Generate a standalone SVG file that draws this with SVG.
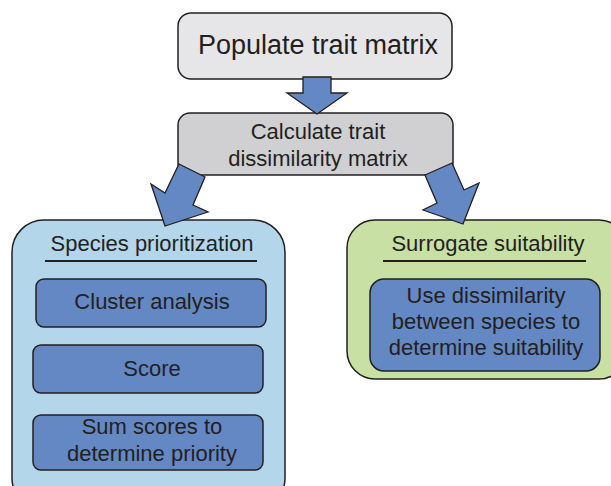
<svg xmlns="http://www.w3.org/2000/svg" width="611" height="486" viewBox="0 0 611 486">
<style>
text{font-family:"Liberation Sans",Arial,sans-serif;fill:#231f20;text-anchor:middle}
.box{stroke:#231f20;stroke-width:1.5}
.arrow{fill:#6488c4;stroke:#231f20;stroke-width:1.3;stroke-linejoin:miter}
.inner{fill:#6488c4;stroke:#231f20;stroke-width:1.5}
.t21{font-size:22px}
</style>
<rect width="611" height="486" fill="#ffffff"/>
<g id="populate">
<rect class="box" x="178" y="13" width="274" height="66" rx="13" fill="#e6e5e8"/>
<text x="318" y="54" font-size="27">Populate trait matrix</text>
</g>
<g id="calculate">
<rect class="box" x="178" y="113" width="275" height="62" rx="12" fill="#d0d0d2"/>
<text class="t21" x="318" y="139">Calculate trait</text>
<text class="t21" x="318" y="166">dissimilarity matrix</text>
</g>
<g id="species">
<rect class="box" x="12" y="220" width="273" height="290" rx="32" fill="#b4d6ea"/>
<text class="t21" x="152" y="251">Species prioritization</text>
<line x1="45" y1="261" x2="257" y2="261" stroke="#231f20" stroke-width="2"/>
<g id="cluster">
<rect class="inner" x="36" y="279" width="230" height="48" rx="8"/>
<text class="t21" x="152" y="309">Cluster analysis</text>
</g>
<g id="score">
<rect class="inner" x="33" y="345" width="230" height="48" rx="8"/>
<text class="t21" x="152" y="376">Score</text>
</g>
<g id="sum">
<rect class="inner" x="33" y="415" width="230" height="55" rx="8"/>
<text class="t21" x="152" y="434">Sum scores to</text>
<text class="t21" x="152" y="461">determine priority</text>
</g>
</g>
<g id="surrogate">
<rect class="box" x="347" y="220" width="280" height="159" rx="28" fill="#c8e0a3"/>
<text class="t21" x="488" y="251">Surrogate suitability</text>
<line x1="383" y1="261" x2="586" y2="261" stroke="#231f20" stroke-width="2"/>
<g id="use">
<rect class="inner" x="370" y="279" width="230" height="92" rx="14"/>
<text class="t21" x="486" y="303">Use dissimilarity</text>
<text class="t21" x="486" y="329">between species to</text>
<text class="t21" x="486" y="355">determine suitability</text>
</g>
</g>
<g id="connectors">
<polygon class="arrow" points="303,77 331,77 331,93 347,93 317,114 287,93 303,93"/>
<polygon class="arrow" points="179,164 205,177 193,205 208,212 165,226 151,184 165,193"/>
<polygon class="arrow" points="425,175 452,163 464,190 479,183 463,224 423,210 437,203"/>
</g>
</svg>
